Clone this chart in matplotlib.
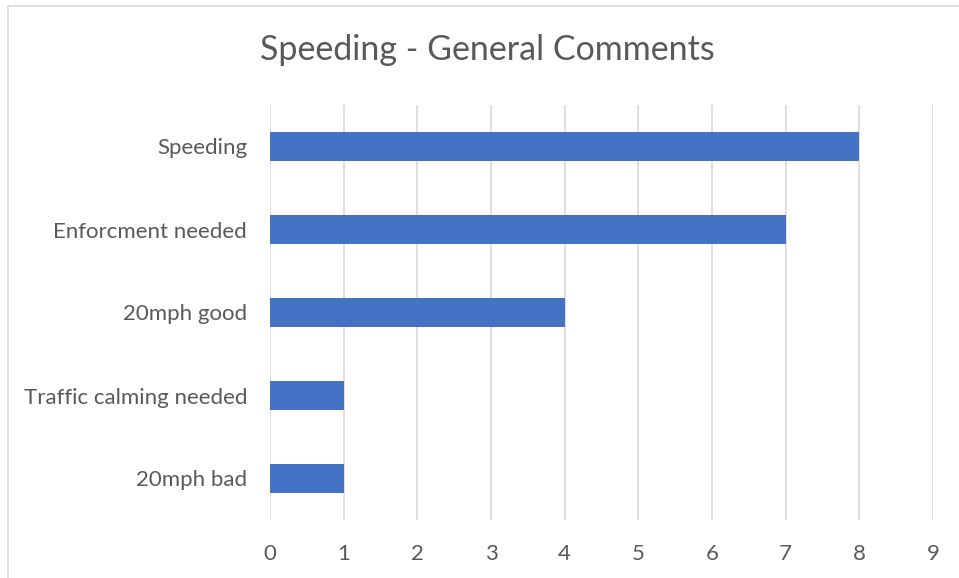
import matplotlib
matplotlib.use("Agg")
import matplotlib.pyplot as plt
from matplotlib.patches import Rectangle

categories = ["Speeding", "Enforcment needed", "20mph good", "Traffic calming needed", "20mph bad"]
values = [8, 7, 4, 1, 1]
xticks = [0, 1, 2, 3, 4, 5, 6, 7, 8, 9]
title = "Speeding - General Comments"

plt.rcParams['font.family'] = ['Lato', 'DejaVu Sans']
W, H = 959, 578
fig = plt.figure(figsize=(W / 100, H / 100), dpi=100)
fig.patch.set_facecolor("white")
fig.add_artist(Rectangle((8 / W, -0.2), 1.2, 1.2 - 6 / H, transform=fig.transFigure,
                         fill=False, edgecolor="#d9d9d9", linewidth=1.2))

ax = fig.add_axes([270 / W, 1 - 520 / H, (933 - 270) / W, (520 - 105) / H])
ypos = list(range(len(categories)))
ax.barh(ypos, values, height=0.34, color="#4472c4", zorder=3)
ax.set_ylim(len(categories) - 0.5, -0.5)
ax.set_xlim(0, 9)
ax.set_xticks(xticks)
ax.set_yticks(ypos)
ax.set_yticklabels(categories)
ax.grid(axis="x", color="#d9d9d9", linewidth=1.2, zorder=0)
for s in ax.spines.values():
    s.set_visible(False)
ax.tick_params(axis="both", length=0, colors="#595959", labelsize=16)
ax.tick_params(axis="x", pad=17)
ax.tick_params(axis="y", pad=16.5)
fig.text(487 / W, 1 - 50 / H, title, ha="center", va="center", fontsize=24.5, color="#595959")
fig.savefig("out.png", dpi=100)
